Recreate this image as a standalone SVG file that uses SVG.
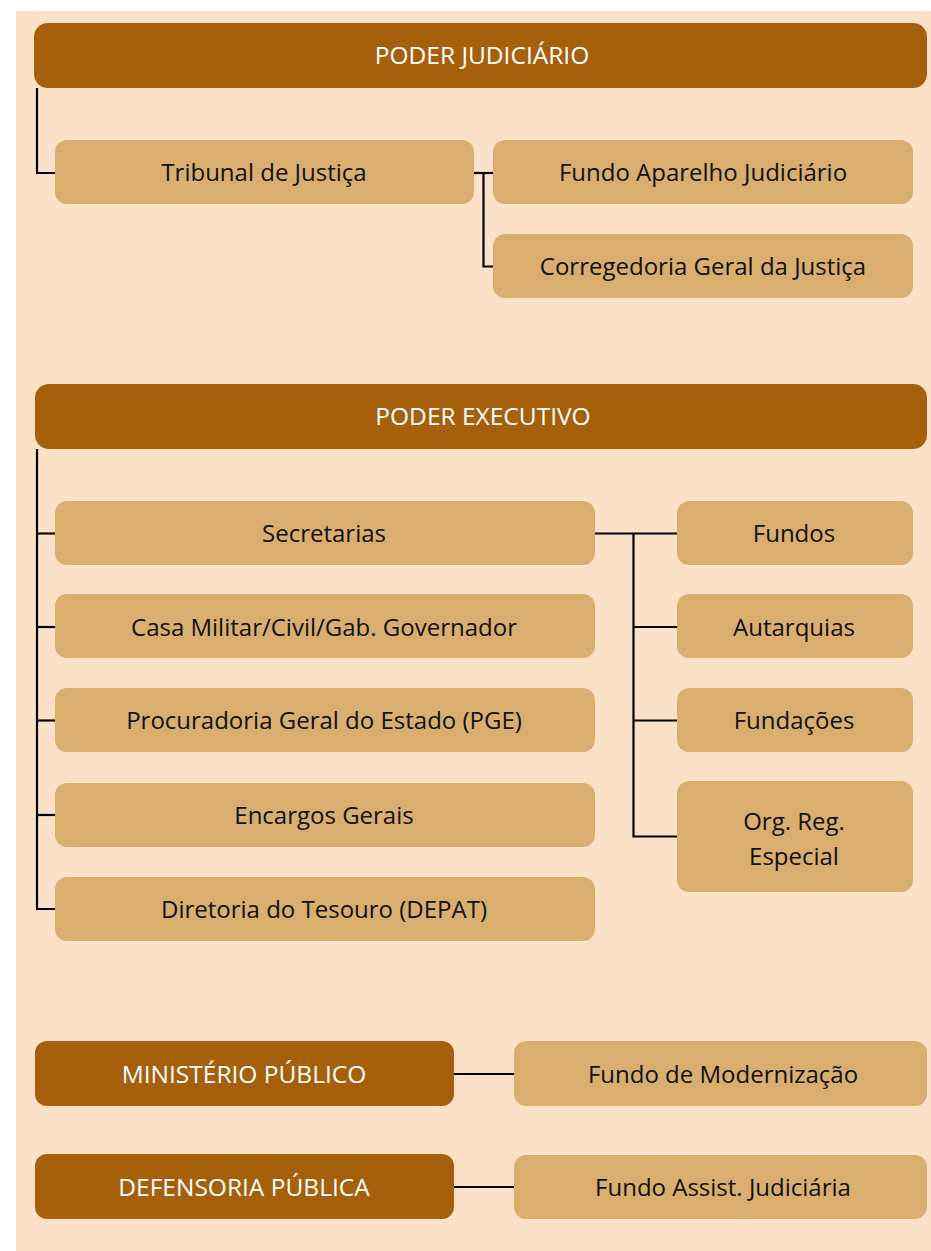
<svg xmlns="http://www.w3.org/2000/svg" width="931" height="1251" viewBox="0 0 931 1251">
<style>
.bg{fill:#FBE1C8}
.dark{fill:#A65F0B}
.light{fill:#DAAE6E}
.tw{font-family:"Open Sans","Liberation Sans",sans-serif;font-size:24.5px;fill:#FFFFFF;text-anchor:middle}
.tb{font-family:"Open Sans","Liberation Sans",sans-serif;font-size:24px;fill:#111111;text-anchor:middle}
.ln{fill:none;stroke:#000000;stroke-width:2.2}
</style>
<rect x="16" y="11" width="915" height="1240" class="bg"/>
<g id="connectors">
<polyline class="ln" points="37,88 37,173 55,173"/>
<polyline class="ln" points="474,173 493,173"/>
<polyline class="ln" points="483.5,173 483.5,266.5 493,266.5"/>
<polyline class="ln" points="37,449 37,909 55,909"/>
<line class="ln" x1="37" y1="533.5" x2="55" y2="533.5"/>
<line class="ln" x1="37" y1="627" x2="55" y2="627"/>
<line class="ln" x1="37" y1="720.5" x2="55" y2="720.5"/>
<line class="ln" x1="37" y1="815" x2="55" y2="815"/>
<line class="ln" x1="595" y1="533.5" x2="677" y2="533.5"/>
<polyline class="ln" points="633.5,533.5 633.5,836.5 677,836.5"/>
<line class="ln" x1="633.5" y1="627" x2="677" y2="627"/>
<line class="ln" x1="633.5" y1="720.5" x2="677" y2="720.5"/>
<line class="ln" x1="454" y1="1074" x2="514" y2="1074"/>
<line class="ln" x1="454" y1="1187" x2="514" y2="1187"/>
</g>
<g id="poder-judiciario"><rect class="dark" x="34" y="23" width="893" height="65" rx="14"/><text class="tw" x="482" y="64">PODER JUDICIÁRIO</text></g>
<g id="tribunal"><rect class="light" x="55" y="140" width="419" height="64" rx="12"/><text class="tb" x="264" y="181">Tribunal de Justiça</text></g>
<g id="fundo-aparelho"><rect class="light" x="493" y="140" width="420" height="64" rx="12"/><text class="tb" x="703" y="181">Fundo Aparelho Judiciário</text></g>
<g id="corregedoria"><rect class="light" x="493" y="234" width="420" height="64" rx="12"/><text class="tb" x="703" y="275">Corregedoria Geral da Justiça</text></g>
<g id="poder-executivo"><rect class="dark" x="35" y="384" width="892" height="65" rx="14"/><text class="tw" x="483" y="425">PODER EXECUTIVO</text></g>
<g id="secretarias"><rect class="light" x="55" y="501" width="540" height="64" rx="12"/><text class="tb" x="324" y="542">Secretarias</text></g>
<g id="casa-militar"><rect class="light" x="55" y="594" width="540" height="64" rx="12"/><text class="tb" x="324" y="636">Casa Militar/Civil/Gab. Governador</text></g>
<g id="procuradoria"><rect class="light" x="55" y="688" width="540" height="64" rx="12"/><text class="tb" x="324" y="729">Procuradoria Geral do Estado (PGE)</text></g>
<g id="encargos"><rect class="light" x="55" y="783" width="540" height="64" rx="12"/><text class="tb" x="324" y="824">Encargos Gerais</text></g>
<g id="diretoria"><rect class="light" x="55" y="877" width="540" height="64" rx="12"/><text class="tb" x="324" y="918">Diretoria do Tesouro (DEPAT)</text></g>
<g id="fundos"><rect class="light" x="677" y="501" width="236" height="64" rx="12"/><text class="tb" x="794" y="542">Fundos</text></g>
<g id="autarquias"><rect class="light" x="677" y="594" width="236" height="64" rx="12"/><text class="tb" x="794" y="636">Autarquias</text></g>
<g id="fundacoes"><rect class="light" x="677" y="688" width="236" height="64" rx="12"/><text class="tb" x="794" y="729">Fundações</text></g>
<g id="org-reg"><rect class="light" x="677" y="781" width="236" height="111" rx="12"/><text class="tb" x="794" y="830">Org. Reg.</text><text class="tb" x="794" y="865">Especial</text></g>
<g id="ministerio"><rect class="dark" x="35" y="1041" width="419" height="65" rx="12"/><text class="tw" x="244" y="1083">MINISTÉRIO PÚBLICO</text></g>
<g id="fundo-modernizacao"><rect class="light" x="514" y="1041" width="413" height="65" rx="12"/><text class="tb" x="723" y="1083">Fundo de Modernização</text></g>
<g id="defensoria"><rect class="dark" x="35" y="1154" width="419" height="65" rx="12"/><text class="tw" x="244" y="1196">DEFENSORIA PÚBLICA</text></g>
<g id="fundo-assist"><rect class="light" x="514" y="1155" width="413" height="64" rx="12"/><text class="tb" x="723" y="1196">Fundo Assist. Judiciária</text></g>
</svg>
